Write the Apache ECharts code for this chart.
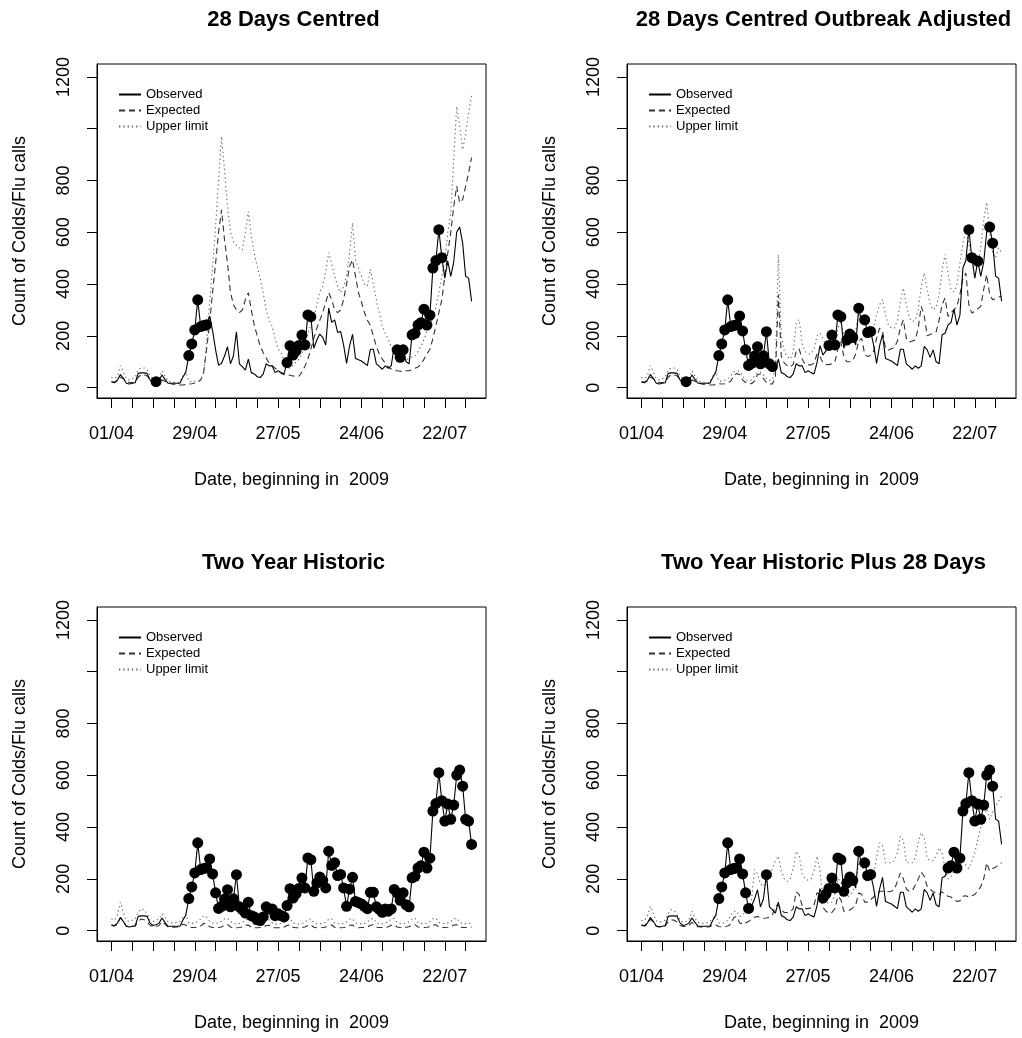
<!DOCTYPE html>
<html><head><meta charset="utf-8">
<script src="https://cdn.jsdelivr.net/npm/echarts@6/dist/echarts.min.js"></script>
<style>html,body{margin:0;padding:0;background:#fff}#c{width:1022px;height:1038px}</style>
</head><body><div id="c"></div>
<script>
// Days since 01/04/2009 (index 0 .. 121)
const observed = [23,19,29,51,36,17,14,17,19,55,
57,57,55,29,20,23,29,49,32,17,
17,17,17,17,40,60,124,169,223,339,
236,240,243,277,219,146,86,94,122,158,
92,123,216,92,81,68,110,58,53,42,
39,53,92,84,84,58,65,58,53,97,
162,126,142,163,203,165,281,274,152,184,
207,194,165,307,252,262,213,217,165,94,
160,206,113,108,103,94,85,148,148,92,
82,71,84,75,84,159,146,117,146,100,
92,204,210,242,251,303,242,280,462,491,
610,502,423,489,430,485,601,620,558,430,
423,333];

// Panel 1: 28 Days Centred
const expected1 = [22,22,25,40,35,25,20,20,22,40,
50,50,45,30,22,18,20,30,25,18,
15,12,10,10,10,12,14,15,18,20,
30,60,150,250,370,480,600,687,571,480,
367,320,300,290,300,340,367,300,240,200,
160,135,114,95,85,75,65,56,50,50,
48,45,44,44,60,83,110,148,190,230,
260,290,330,367,340,300,290,300,340,400,
468,494,430,367,330,290,260,240,200,160,
130,110,95,80,72,68,65,63,63,65,
65,70,75,80,90,110,130,148,190,238,
290,340,430,520,600,700,778,714,726,778,
830,888];
const upper1 = [40,35,45,85,60,35,30,35,40,70,
76,76,70,45,30,18,35,65,45,25,
22,20,20,20,45,62,25,22,25,28,
30,60,180,330,470,620,800,970,840,700,
600,564,550,540,531,600,680,583,520,467,
420,367,300,260,238,190,150,135,100,80,
75,85,100,109,130,170,210,240,270,320,
370,392,450,521,480,431,390,367,390,431,
520,637,494,460,431,400,392,457,400,340,
290,238,210,186,160,135,115,110,112,109,
112,118,122,140,160,186,220,250,264,310,
367,430,494,600,675,880,1086,1009,919,983,
1060,1131];
const alarms1 = [15,26,27,28,29,30,31,32,59,60,61,62,63,64,65,66,67,96,97,98,101,102,103,104,105,106,107,108,109,110,111];

// Panel 2: 28 Days Centred Outbreak Adjusted
const expected2 = [22,22,25,40,35,25,20,20,22,40,
50,50,45,30,22,18,20,30,25,18,
15,12,10,10,10,12,15,14,15,18,
25,45,55,50,30,20,18,15,25,50,
53,35,20,15,14,40,360,120,95,85,
80,90,140,150,110,90,88,88,95,130,
120,95,90,89,92,100,150,178,120,100,
100,105,130,180,190,130,120,125,140,190,
230,220,150,145,150,155,180,230,262,190,
175,180,184,230,314,280,200,205,210,215,
260,320,346,275,290,300,314,360,420,443,
320,288,295,305,314,380,437,360,339,345,
350,352];
const upper2 = [40,35,45,85,60,35,30,35,40,70,
76,76,70,45,30,18,35,65,45,25,
22,20,20,20,45,62,25,25,28,35,
45,60,65,63,45,30,28,30,45,57,
60,50,35,28,30,75,513,200,140,120,
110,140,250,263,170,140,130,130,150,200,
210,190,160,150,170,160,230,255,200,170,
180,185,220,280,300,240,200,205,230,280,
320,340,280,240,230,230,260,330,385,320,
270,255,260,300,390,443,380,320,300,310,
360,450,514,440,380,370,400,480,560,604,
560,480,460,470,540,650,716,600,520,500,
540,520];
const alarms2 = [15,26,27,28,29,30,31,32,33,34,35,36,37,38,39,40,41,42,43,44,63,64,65,66,67,69,70,71,73,75,76,77,110,111,113,117,118];

// Panel 3: Two Year Historic
const expected3 = [20,18,25,50,35,18,15,
16,18,35,45,42,35,20,
16,16,20,35,25,15,14,
13,14,15,25,22,14,12,
12,14,18,28,26,15,12,
12,12,14,22,24,14,11,
11,12,14,20,22,13,11,
11,12,13,20,21,13,11,
11,12,14,20,22,13,11,
11,12,14,20,22,13,11,
11,12,14,21,22,13,11,
11,12,14,21,22,13,11,
12,12,14,21,23,13,12,
12,12,15,21,23,14,12,
12,13,15,22,23,14,12,
12,13,15,22,23,14,12,
12,13,15,22,23,14,12,
12,13,14];
const upper3 = [45,40,60,110,70,40,35,
40,45,70,85,80,65,40,
35,40,45,65,50,35,30,
30,32,35,50,62,30,28,
30,35,45,57,52,35,30,
28,30,35,45,48,35,28,
25,28,32,42,45,30,25,
25,28,30,40,42,30,25,
25,28,32,42,45,30,26,
25,28,32,43,45,30,26,
26,28,33,44,46,30,27,
26,28,33,44,46,30,27,
26,28,34,45,47,31,27,
26,29,34,45,47,31,27,
27,29,34,46,48,31,27,
27,29,35,46,48,32,28,
27,29,35,46,48,32,28,
27,29,30];
const alarms3 = [26,27,28,29,30,31,32,33,34,35,36,37,38,39,40,41,42,43,44,45,46,47,48,49,50,51,52,53,54,55,56,57,58,59,60,61,62,63,64,65,66,67,68,69,70,71,72,73,74,75,76,77,78,79,80,81,82,83,84,85,86,87,88,89,90,91,92,93,94,95,96,97,98,99,100,101,102,103,104,105,106,107,108,109,110,111,112,113,114,115,116,117,118,119,120,121];

// Panel 4: Two Year Historic Plus 28 Days
const expected4 = [20,18,25,45,32,18,15,
16,18,35,42,40,33,20,
16,16,20,32,24,15,14,
13,14,15,24,22,16,15,
16,18,25,50,55,30,25,
30,35,45,52,55,50,48,
49,52,60,95,100,80,70,
70,72,85,150,140,95,85,
85,88,100,146,140,90,75,
68,70,85,133,120,75,75,
80,88,100,146,140,110,110,
120,130,140,152,152,150,150,
152,160,190,223,200,160,152,
155,175,200,226,210,170,160,
150,145,140,150,140,133,130,
120,113,115,133,135,130,135,
140,152,170,200,262,230,240,
245,255,262];
const upper4 = [40,38,55,94,65,38,32,
35,40,65,81,78,62,38,
32,35,42,75,48,32,28,
28,30,35,48,62,30,28,
30,40,60,75,75,55,60,
75,80,120,236,220,180,170,
190,210,240,270,288,230,200,
190,200,240,307,290,220,200,
195,200,230,288,230,120,110,
105,110,140,200,190,140,130,
135,150,190,260,270,200,190,
200,220,280,339,330,262,262,
262,270,300,365,350,262,262,
262,280,340,378,360,280,270,
270,290,320,300,240,200,210,
230,225,270,285,250,240,270,
300,352,400,440,470,430,460,
480,500,519];
const alarms4 = [26,27,28,29,30,31,32,33,34,35,36,42,61,62,63,64,65,66,67,68,69,70,71,73,75,76,77,103,104,105,106,107,108,109,110,111,112,113,114,115,116,117,118];

const panelTitles = ['28 Days Centred','28 Days Centred Outbreak Adjusted','Two Year Historic','Two Year Historic Plus 28 Days'];
const xTickDays = [0,7,14,21,28,35,42,49,56,63,70,77,84,91,98,105,112,119];
const xLabelDays = [0,28,56,84,112];
const xLabels = ['01/04','29/04','27/05','24/06','22/07'];
const yTicks = [0,200,400,600,800,1000,1200];
const yLabelValues = [0,200,400,600,800,1200];
const seriesNames = ['Observed','Expected','Upper limit'];

const expectedAll = [expected1, expected2, expected3, expected4];
const upperAll = [upper1, upper2, upper3, upper4];
const alarmsAll = [alarms1, alarms2, alarms3, alarms4];

const FONT = '"Liberation Sans", Arial, Helvetica, sans-serif';
const panels = [{left:97, top:64}, {left:627, top:64}, {left:97, top:607}, {left:627, top:607}];
const W = 389, H = 334;

const toPairs = arr => arr.map((v, d) => [d, v]);

const option = {
  animation: false,
  backgroundColor: '#fff',
  title: panels.map((p, i) => ({
    text: panelTitles[i], left: p.left + W / 2 - 3, top: p.top - 60, textAlign: 'center',
    textStyle: {fontSize: 22, fontWeight: 'bold', fontFamily: FONT, color: '#000'}
  })),
  legend: panels.map(p => ({
    data: seriesNames, left: p.left + 16, top: p.top + 19, orient: 'vertical',
    itemWidth: 22, itemHeight: 12, itemGap: 3, selectedMode: false,
    itemStyle: {opacity: 0},
    textStyle: {fontSize: 13, fontFamily: FONT, color: '#000'}
  })),
  grid: panels.map(p => ({left: p.left, top: p.top, width: W, height: H, show: true,
    borderColor: '#000', borderWidth: 1, backgroundColor: 'transparent'})),
  xAxis: panels.map((p, i) => ({
    type: 'value', gridIndex: i, min: -4.84, max: 125.84,
    axisLine: {show: true, onZero: false, lineStyle: {color: '#000', width: 1}},
    axisTick: {show: true, inside: false, length: 10, lineStyle: {color: '#000'}, customValues: xTickDays},
    axisLabel: {customValues: xLabelDays, margin: 27, fontSize: 18, fontFamily: FONT, color: '#000',
      formatter: v => xLabels[xLabelDays.indexOf(Math.round(v))]},
    splitLine: {show: false},
    name: 'Date, beginning in  2009', nameLocation: 'middle', nameGap: 73,
    nameTextStyle: {fontSize: 18, fontFamily: FONT, color: '#000'}
  })),
  yAxis: panels.map((p, i) => ({
    type: 'value', gridIndex: i, min: -40, max: 1250,
    axisLine: {show: true, onZero: false, lineStyle: {color: '#000', width: 1}},
    axisTick: {show: true, inside: false, length: 10, lineStyle: {color: '#000'}, customValues: yTicks},
    axisLabel: {customValues: yLabelValues, rotate: 90, margin: 24, fontSize: 18, fontFamily: FONT, color: '#000',
      formatter: v => String(Math.round(v))},
    splitLine: {show: false},
    name: 'Count of Colds/Flu calls', nameLocation: 'middle', nameGap: 68, nameRotate: 90,
    nameTextStyle: {fontSize: 18, fontFamily: FONT, color: '#000'}
  })),
  series: []
};

panels.forEach((p, i) => {
  option.series.push({
    name: 'Observed', type: 'line', xAxisIndex: i, yAxisIndex: i, symbol: 'none',
    data: toPairs(observed), lineStyle: {color: '#000', width: 1.1}, itemStyle: {color: '#000'}, z: 3
  });
  option.series.push({
    name: 'Expected', type: 'line', xAxisIndex: i, yAxisIndex: i, symbol: 'none',
    data: toPairs(expectedAll[i]), lineStyle: {color: '#333', width: 1.1, type: [6, 4]}, itemStyle: {color: '#333'}, z: 2
  });
  option.series.push({
    name: 'Upper limit', type: 'line', xAxisIndex: i, yAxisIndex: i, symbol: 'none',
    data: toPairs(upperAll[i]), lineStyle: {color: '#666', width: 1.1, type: [1.3, 3]}, itemStyle: {color: '#666'}, z: 2
  });
  option.series.push({
    name: 'Alarm', type: 'scatter', xAxisIndex: i, yAxisIndex: i, symbol: 'circle', symbolSize: 11,
    data: alarmsAll[i].map(d => [d, observed[d]]), itemStyle: {color: '#000', opacity: 1}, z: 4
  });
});

const chart = echarts.init(document.getElementById('c'), null, {renderer: 'canvas'});
chart.setOption(option);
</script>
</body></html>
